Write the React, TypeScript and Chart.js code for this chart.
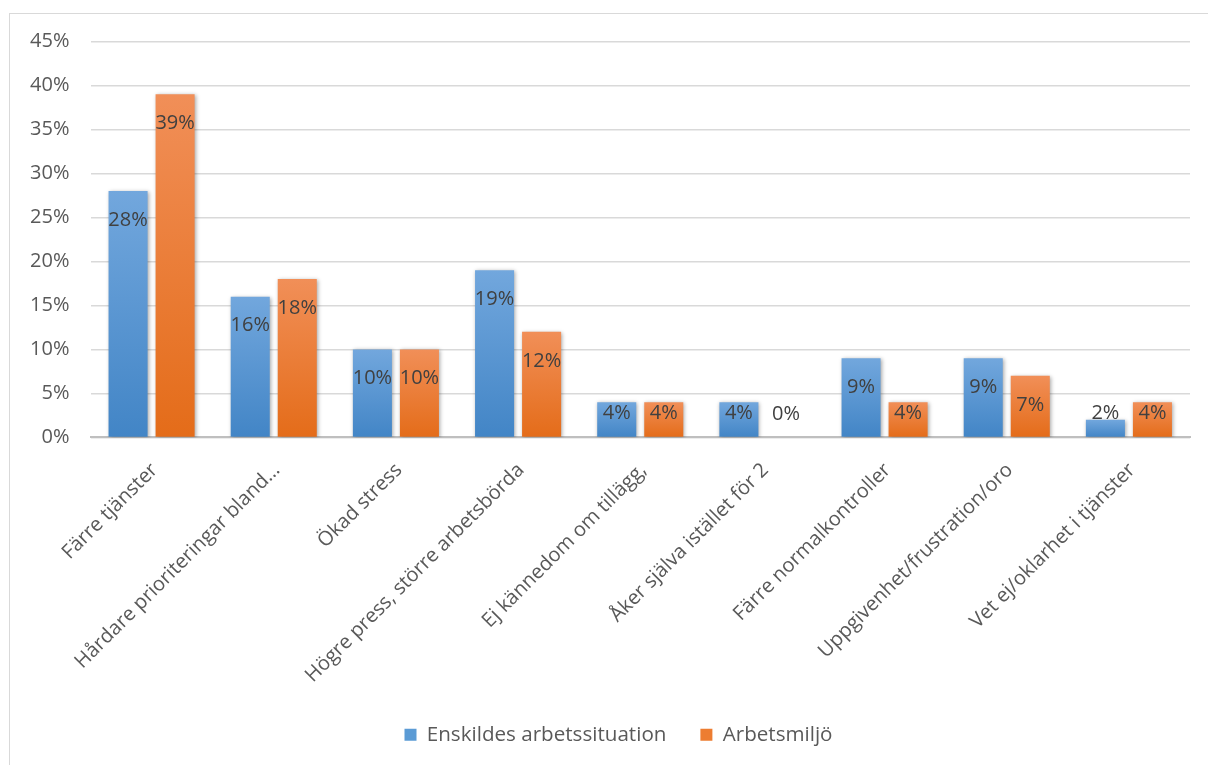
import React, { useEffect, useRef } from "react";
import { Chart, registerables } from "chart.js";

Chart.register(...registerables);

const categories = [
  "Färre tjänster",
  "Hårdare prioriteringar bland…",
  "Ökad stress",
  "Högre press, större arbetsbörda",
  "Ej kännedom om tillägg,",
  "Åker själva istället för 2",
  "Färre normalkontroller",
  "Uppgivenhet/frustration/oro",
  "Vet ej/oklarhet i tjänster",
];
const seriesNames = ["Enskildes arbetssituation", "Arbetsmiljö"];
const enskildes = [28, 16, 10, 19, 4, 4, 9, 9, 2];
const arbetsmiljo = [39, 18, 10, 12, 4, 0, 4, 7, 4];
const yTicks = [0, 5, 10, 15, 20, 25, 30, 35, 40, 45];

const FONT = "'Open Sans', Lato, sans-serif";
const FS = 20;
const LEGEND_CENTER = 608.5;
const palettes = [
  { top: "#72a7dd", bottom: "#4285c6", mid: "#5b9bd5" },
  { top: "#f18f58", bottom: "#e46c19", mid: "#ed7d31" },
];

function gradientFor(idx: number) {
  return (c: any) => {
    const p = palettes[idx];
    const chart = c.chart;
    const y = chart.scales && chart.scales.y;
    if (!chart.chartArea || !y || c.type !== "data") return p.mid;
    const top = y.getPixelForValue(c.raw);
    const base = y.getPixelForValue(0);
    if (base - top < 1) return p.mid;
    const g = chart.ctx.createLinearGradient(0, top, 0, base);
    g.addColorStop(0, p.top);
    g.addColorStop(1, p.bottom);
    return g;
  };
}

const shadowPlugin = {
  id: "barShadow",
  beforeDatasetDraw(chart: any) {
    const ctx = chart.ctx;
    ctx.save();
    ctx.shadowColor = "rgba(0,0,0,0.35)";
    ctx.shadowBlur = 4;
    ctx.shadowOffsetX = 1;
    ctx.shadowOffsetY = 1;
  },
  afterDatasetDraw(chart: any) {
    chart.ctx.restore();
  },
};

const legendShiftPlugin = {
  id: "legendShift",
  afterLayout(chart: any) {
    const lg = chart.legend;
    if (!lg) return;
    const d = LEGEND_CENTER - (lg.left + lg.right) / 2;
    lg.left += d;
    lg.right += d;
  },
};

const labelPlugin = {
  id: "valueLabels",
  afterDatasetsDraw(chart: any) {
    const ctx = chart.ctx;
    ctx.save();
    ctx.font = `${FS}px ${FONT}`;
    ctx.fillStyle = "#404040";
    ctx.textAlign = "center";
    ctx.textBaseline = "middle";
    chart.data.datasets.forEach((ds: any, di: number) => {
      const meta = chart.getDatasetMeta(di);
      meta.data.forEach((el: any, i: number) => {
        const v = ds.data[i];
        const yc = Math.min(el.y + 29, el.base - 23);
        ctx.fillText(`${v}%`, el.x, yc);
      });
    });
    ctx.restore();
  },
};

export default function App() {
  const ref = useRef<HTMLCanvasElement | null>(null);
  useEffect(() => {
    if (!ref.current) return;
    const chart = new Chart(ref.current, {
      type: "bar",
      data: {
        labels: categories,
        datasets: [
          {
            label: seriesNames[0],
            data: enskildes,
            backgroundColor: gradientFor(0),
            categoryPercentage: 0.77,
            barPercentage: 0.83,
          },
          {
            label: seriesNames[1],
            data: arbetsmiljo,
            backgroundColor: gradientFor(1),
            categoryPercentage: 0.77,
            barPercentage: 0.83,
          },
        ],
      },
      options: {
        animation: false,
        responsive: false,
        maintainAspectRatio: false,
        layout: { padding: { left: 10, right: 40, top: 27.5, bottom: 11 } },
        scales: {
          x: {
            grid: { display: false },
            border: { display: true, color: "#bfbfbf", width: 2 },
            ticks: {
              color: "#595959",
              font: { family: FONT, size: FS },
              minRotation: 45,
              maxRotation: 45,
              padding: 13,
              labelOffset: 3,
              autoSkip: false,
            },
            afterFit: (s: any) => {
              s.height = 253;
            },
          },
          y: {
            min: 0,
            max: 45,
            afterBuildTicks: (s: any) => {
              s.ticks = yTicks.map((v) => ({ value: v }));
            },
            grid: { color: "#d9d9d9", lineWidth: 1.5, drawTicks: false },
            border: { display: false },
            ticks: {
              color: "#595959",
              font: { family: FONT, size: FS },
              padding: 21,
              callback: (v: any) => `${v}%`,
            },
            afterFit: (s: any) => {
              s.width = 70.5;
              s.paddingTop = 0;
              s.paddingBottom = 0;
            },
          },
        },
        plugins: {
          tooltip: { enabled: false },
          legend: {
            position: "bottom",
            labels: {
              color: "#595959",
              font: { family: FONT, size: 20.6 },
              boxWidth: 12,
              boxHeight: 12,
              padding: 34,
              generateLabels: () =>
                seriesNames.map((n, i) => ({
                  text: n,
                  fillStyle: palettes[i].mid,
                  strokeStyle: palettes[i].mid,
                  lineWidth: 0,
                  hidden: false,
                  datasetIndex: i,
                  fontColor: "#595959",
                })),
            },
          },
        },
      },
      plugins: [legendShiftPlugin, shadowPlugin, labelPlugin],
    });
    return () => chart.destroy();
  }, []);
  return (
    <div style={{ position: "fixed", left: 0, top: 0, width: "100vw", height: "100vh", overflow: "hidden", background: "#fff" }}>
      <div
        style={{
          position: "absolute",
          left: 9,
          top: 13,
          width: 1223,
          height: 780,
          border: "1.5px solid #d9d9d9",
          background: "#fff",
          boxSizing: "border-box",
        }}
      >
        <canvas ref={ref} width={1220} height={752} style={{ display: "block", width: 1220, height: 752 }} />
      </div>
    </div>
  );
}
